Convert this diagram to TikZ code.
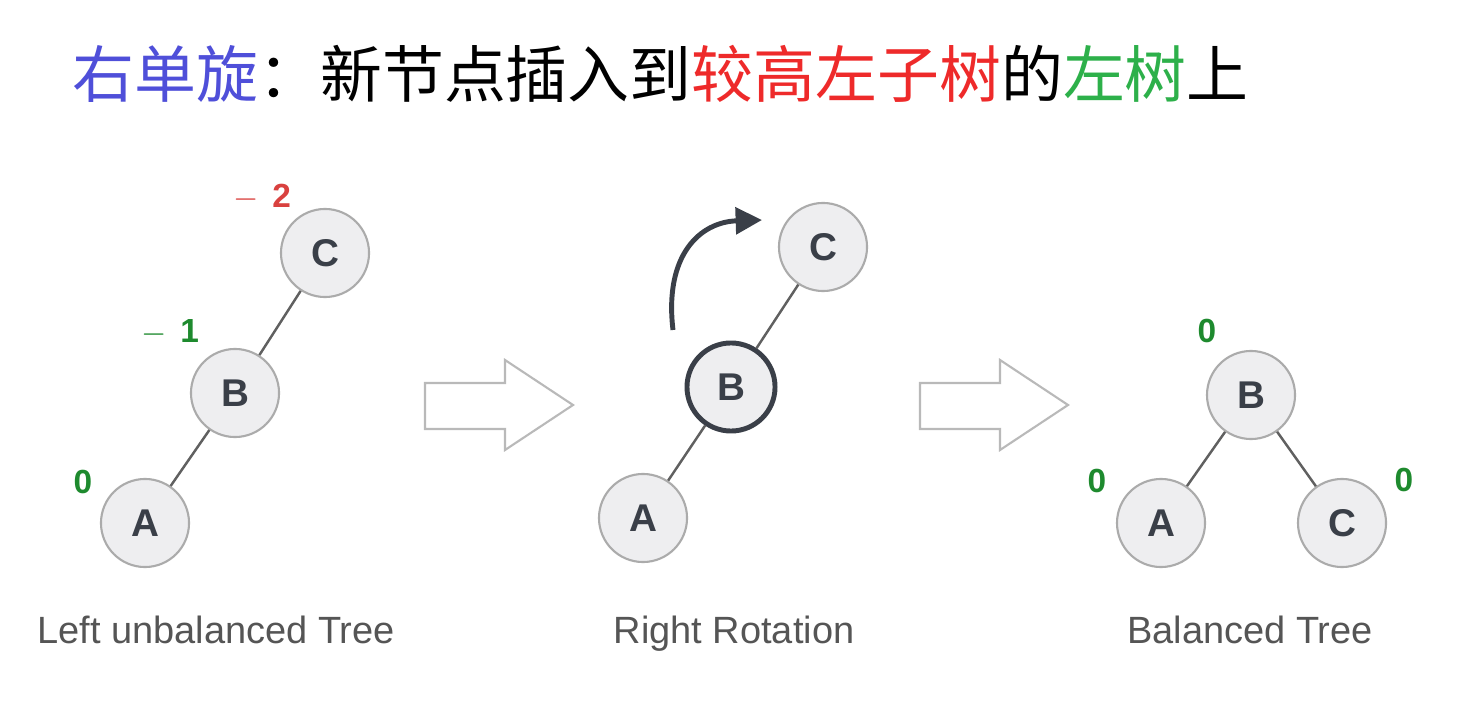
\documentclass[tikz,border=0pt]{standalone}
\usepackage{fontspec}
\setmainfont{Liberation Sans}
\newfontfamily\cjk{Noto Sans CJK SC}
\usepackage{tikz}
\usetikzlibrary{arrows.meta,positioning}
\usepackage{xcolor}
\definecolor{titleblue}{HTML}{4F4FD9}
\definecolor{titlered}{HTML}{EE2A2A}
\definecolor{titlegreen}{HTML}{2DB04A}
\definecolor{nodefill}{HTML}{EEEEF0}
\definecolor{nodeedge}{HTML}{ABABAB}
\definecolor{ink}{HTML}{3A3F48}
\definecolor{balred}{HTML}{D9413F}
\definecolor{balgreen}{HTML}{1E8A2E}
\definecolor{captiongray}{HTML}{555555}

\tikzset{
  treenode/.style={circle, fill=nodefill, draw=nodeedge, line width=0.6pt,
    minimum size=0.88cm, inner sep=0pt, text=ink,
    font=\bfseries\fontsize{11}{13}\selectfont},
  pivotnode/.style={treenode, draw=ink, line width=1.4pt},
  treeedge/.style={draw=gray!75!black, line width=0.7pt},
  bal/.style={font=\bfseries\fontsize{9.5}{11}\selectfont, inner sep=0pt},
  caption/.style={font=\fontsize{10.8}{13}\selectfont, text=captiongray, anchor=base},
  blockarrow/.style={draw=gray!55, line width=0.6pt, fill=white},
  rotarrow/.style={draw=ink, line width=1.4pt, -{Triangle[length=7.5pt,width=7.5pt]}}
}

\begin{document}
\begin{tikzpicture}[x=0.01cm, y=-0.01cm]
      \useasboundingbox (0,0) rectangle (1477,710);

      % Title
      \node[anchor=base west, inner sep=0pt, font=\cjk\fontsize{17.6}{21}\selectfont] (title) at (72,98)
        {\textcolor{titleblue}{右单旋}：新节点插入到\textcolor{titlered}{较高左子树}的\textcolor{titlegreen}{左树}上};

      % Left unbalanced tree
      \node[treenode] (c1) at (325,253) {C};
      \node[treenode] (b1) at (235,393) {B};
      \node[treenode] (a1) at (145,523) {A};
      \draw[treeedge] (c1) -- (b1) (b1) -- (a1);
      \node[bal, text=balred] (bc1) at (262,197) {$-$\hspace{4pt}2};
      \node[bal, text=balgreen] (bb1) at (170,332) {$-$\hspace{4pt}1};
      \node[bal, text=balgreen] (ba1) at (83,482) {0};

      % Right rotation
      \node[treenode] (c2) at (823,247) {C};
      \node[pivotnode] (b2) at (731,387) {B};
      \node[treenode] (a2) at (643,518) {A};
      \draw[treeedge] (c2) -- (b2) (b2) -- (a2);
      \coordinate (rotstart) at (673,330);
      \coordinate (rotend) at (762,220);
      \draw[rotarrow] (rotstart) .. controls (664,255) and (700,222) .. (rotend);

      % Balanced tree
      \node[treenode] (b3) at (1251,395) {B};
      \node[treenode] (a3) at (1161,523) {A};
      \node[treenode] (c3) at (1342,523) {C};
      \draw[treeedge] (b3) -- (a3) (b3) -- (c3);
      \foreach \nm/\x/\y in {bb3/1207/331, ba3/1097/481, bc3/1404/480}
        \node[bal, text=balgreen] (\nm) at (\x,\y) {0};

      % Block arrows
      \foreach \ax in {425,920}
        \draw[blockarrow] (\ax,383) -- (\ax+80,383) -- (\ax+80,360) -- (\ax+148,405)
          -- (\ax+80,450) -- (\ax+80,429) -- (\ax,429) -- cycle;

      % Captions
      \node[caption] (cap1) at (216,643) {Left unbalanced Tree};
      \node[caption] (cap2) at (734,643) {Right Rotation};
      \node[caption] (cap3) at (1250,643) {Balanced Tree};
    \end{tikzpicture}
\end{document}
